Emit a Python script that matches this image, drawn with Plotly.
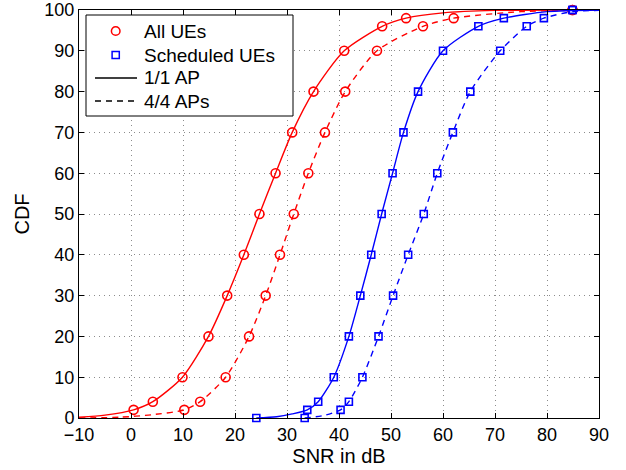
import plotly.graph_objects as go

# CDF levels at markers
cdf_levels = [0, 2, 4, 10, 20, 30, 40, 50, 60, 70, 80, 90, 96, 98, 100]

# Marker positions (SNR in dB)
red_solid_x = [None, 0.5, 4.2, 9.9, 14.9, 18.5, 21.7, 24.7, 27.8, 31.0, 35.1, 41.0, 48.3, 52.9, 84.9]
red_dash_x = [None, 10.25, 13.3, 18.2, 22.7, 25.9, 28.65, 31.3, 34.1, 37.3, 41.2, 47.3, 56.15, 62.05, 84.9]
blue_solid_x = [24.1, 33.9, 36.0, 39.0, 41.9, 44.1, 46.2, 48.2, 50.3, 52.4, 55.2, 60.0, 66.8, 71.7, 84.9]
blue_dash_x = [33.4, 40.3, 41.9, 44.5, 47.6, 50.4, 53.3, 56.3, 58.9, 61.9, 65.25, 71.0, 76.1, 79.4, 84.9]

# Curve traces
red_solid_line_x = [-10, -5, 0.5, 4.2, 9.9, 14.9, 18.5, 21.7, 24.7, 27.8, 31.0, 35.1, 41.0, 48.3, 52.9, 60, 70, 90]
red_solid_line_y = [0.2, 0.7, 2, 4, 10, 20, 30, 40, 50, 60, 70, 80, 90, 96, 98, 99.3, 99.9, 100]
red_dash_line_x = [-10, -2, 4, 10.25, 13.3, 18.2, 22.7, 25.9, 28.65, 31.3, 34.1, 37.3, 41.2, 47.3, 56.15, 62.05, 75, 90]
red_dash_line_y = [0, 0.2, 0.8, 2, 4, 10, 20, 30, 40, 50, 60, 70, 80, 90, 96, 98, 99.6, 100]
blue_solid_line_x = [24.1, 28, 31, 33.9, 36.0, 39.0, 41.9, 44.1, 46.2, 48.2, 50.3, 52.4, 55.2, 60.0, 66.8, 71.7, 80, 90]
blue_solid_line_y = [0, 0.3, 1, 2, 4, 10, 20, 30, 40, 50, 60, 70, 80, 90, 96, 98, 99.6, 100]
blue_dash_line_x = [33.4, 37, 40.3, 41.9, 44.5, 47.6, 50.4, 53.3, 56.3, 58.9, 61.9, 65.25, 71.0, 76.1, 79.4, 84.9, 90]
blue_dash_line_y = [0, 0.6, 2, 4, 10, 20, 30, 40, 50, 60, 70, 80, 90, 96, 98, 99.6, 99.9]

x_ticks = [-10, 0, 10, 20, 30, 40, 50, 60, 70, 80, 90]
y_ticks = [0, 10, 20, 30, 40, 50, 60, 70, 80, 90, 100]

legend_labels = ["All UEs", "Scheduled UEs", "1/1 AP", "4/4 APs"]

RED = "#ff0000"
BLUE = "#0000ff"
FONT = "Liberation Sans, Arial, Helvetica, sans-serif"
DASH = "6px,5px"

fig = go.Figure()

def add_curve(lx, ly, mx, color, dash, symbol, msize):
    fig.add_trace(go.Scatter(x=lx, y=ly, mode="lines", line=dict(color=color, width=1.4, dash=dash,
                             shape="spline", smoothing=0.7), showlegend=False, hoverinfo="skip"))
    pts = [(x, y) for x, y in zip(mx, cdf_levels) if x is not None]
    fig.add_trace(go.Scatter(x=[p[0] for p in pts], y=[p[1] for p in pts], mode="markers",
                             marker=dict(symbol=symbol, size=msize, color=color,
                                         line=dict(color=color, width=1.6)),
                             cliponaxis=False, showlegend=False))

add_curve(red_solid_line_x, red_solid_line_y, red_solid_x, RED, "solid", "circle-open", 9)
add_curve(red_dash_line_x, red_dash_line_y, red_dash_x, RED, DASH, "circle-open", 9)
add_curve(blue_solid_line_x, blue_solid_line_y, blue_solid_x, BLUE, "solid", "square-open", 7)
add_curve(blue_dash_line_x, blue_dash_line_y, blue_dash_x, BLUE, DASH, "square-open", 7)

# ---- manual legend (MATLAB style) in plot-area (paper) coordinates ----
PW, PH = 520.0, 408.0   # plot area size in px
lx0, lx1 = 7 / PW, 214 / PW
ly_top, ly_bot = 1 - 5 / PH, 1 - 106 / PH
row_y = [1 - d / PH for d in (21, 45, 68, 91)]
sym_cx = 36.7 / PW
line_x0, line_x1 = 16 / PW, 58 / PW
text_x = 62.7 / PW

shapes = [dict(type="rect", xref="paper", yref="paper", x0=lx0, x1=lx1, y0=ly_bot, y1=ly_top,
               line=dict(color="black", width=1), fillcolor="white", layer="above")]
r = 4.3
shapes.append(dict(type="circle", xref="paper", yref="paper",
                   x0=sym_cx - r / PW, x1=sym_cx + r / PW, y0=row_y[0] - r / PH, y1=row_y[0] + r / PH,
                   line=dict(color=RED, width=1.5), layer="above"))
s = 3.6
shapes.append(dict(type="rect", xref="paper", yref="paper",
                   x0=sym_cx - s / PW, x1=sym_cx + s / PW, y0=row_y[1] - s / PH, y1=row_y[1] + s / PH,
                   line=dict(color=BLUE, width=1.5), layer="above"))
shapes.append(dict(type="line", xref="paper", yref="paper", x0=line_x0, x1=line_x1,
                   y0=row_y[2], y1=row_y[2], line=dict(color="black", width=1.3), layer="above"))
shapes.append(dict(type="line", xref="paper", yref="paper", x0=line_x0, x1=line_x1,
                   y0=row_y[3], y1=row_y[3], line=dict(color="black", width=1.3, dash=DASH), layer="above"))

annotations = [dict(text=t, xref="paper", yref="paper", x=text_x, y=yy, xanchor="left", yanchor="middle",
                    showarrow=False, font=dict(size=19, family=FONT, color="black"))
               for t, yy in zip(legend_labels, row_y)]

axis_common = dict(
    showline=True, linecolor="black", linewidth=1, mirror="allticks",
    ticks="inside", ticklen=5, tickcolor="black", automargin=False,
    showgrid=True, gridcolor="#8c8c8c", griddash="1px,4px", gridwidth=1,
    zeroline=False, tickfont=dict(size=18, color="black", family=FONT),
    ticklabeloverflow="allow",
)

fig.update_layout(
    width=626, height=470,
    margin=dict(l=79, r=27, t=10, b=52),
    paper_bgcolor="white", plot_bgcolor="white",
    font=dict(family=FONT, size=18, color="black"),
    xaxis=dict(range=[-10, 90], tickvals=x_ticks,
               title=dict(text="SNR in dB", font=dict(size=20), standoff=2), **axis_common),
    yaxis=dict(range=[0, 100], tickvals=y_ticks,
               title=dict(text="CDF", font=dict(size=20), standoff=9), **axis_common),
    shapes=shapes, annotations=annotations,
    showlegend=False,
)

# remove the default 8px page margin so the 626x470 figure fills the window exactly
fig.write_html("out.html", config={"displayModeBar": False},
               post_script="document.body.style.margin='0';")
